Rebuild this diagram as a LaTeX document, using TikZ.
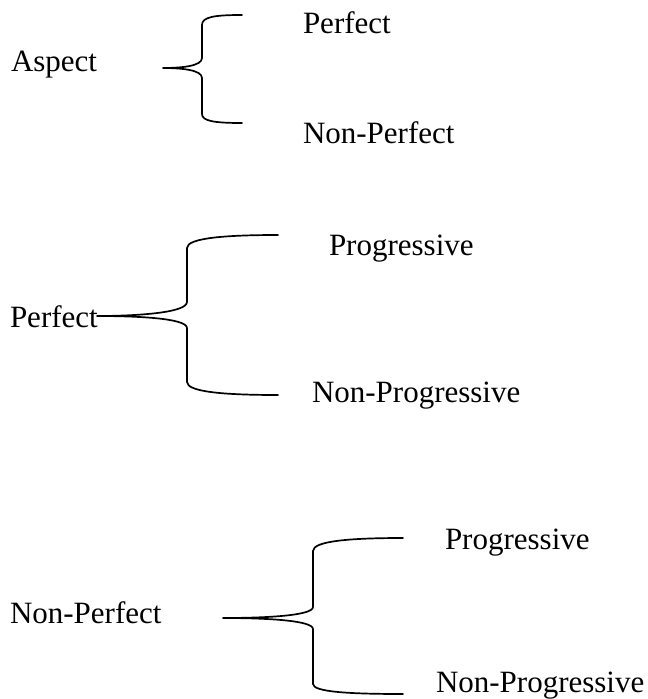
\documentclass[tikz,border=0pt]{standalone}
\usepackage{fontspec}
\setmainfont{Liberation Serif}
\begin{document}
\begin{tikzpicture}[x=1pt,y=-1pt,
  lbl/.style={anchor=base west,inner sep=0pt,outer sep=0pt,font=\fontsize{31}{36}\selectfont},
  brc/.style={line width=1.7pt,line cap=round,line join=round}]
\useasboundingbox (0,0) rectangle (648,699);
% texts
\node[lbl] (aspect) at (11,71) {Aspect};
\node[lbl] (perfA) at (303,33) {Perfect};
\node[lbl] (nonperfA) at (303,143) {Non-Perfect};
\node[lbl] (perfB) at (10,327) {Perfect};
\node[lbl] (progB) at (329,255) {Progressive};
\node[lbl] (nonprogB) at (312,402) {Non-Progressive};
\node[lbl] (nonperfC) at (10,623) {Non-Perfect};
\node[lbl] (progC) at (445,549) {Progressive};
\node[lbl] (nonprogC) at (436,692) {Non-Progressive};
% brace 1
\coordinate (t1) at (163,68);
\coordinate (a1) at (242,15);
\coordinate (b1) at (242,123);
\draw[brc] (a1) .. controls (214,15) and (202,17) .. (202,25) -- (202,58)
  .. controls (202,66) and (182,68) .. (t1)
  .. controls (182,68) and (202,70) .. (202,78) -- (202,114)
  .. controls (202,121) and (214,123) .. (b1);
% brace 2
\coordinate (t2) at (97,316);
\coordinate (a2) at (278,235);
\coordinate (b2) at (278,395);
\draw[brc] (a2) .. controls (225,235) and (187,238) .. (187,248) -- (187,302)
  .. controls (187,313) and (135,316) .. (t2)
  .. controls (135,316) and (187,318) .. (187,328) -- (187,382)
  .. controls (187,392) and (225,395) .. (b2);
% brace 3
\coordinate (t3) at (223,618);
\coordinate (a3) at (403,538);
\coordinate (b3) at (403,694);
\draw[brc] (a3) .. controls (350,538) and (313,541) .. (313,551) -- (313,607)
  .. controls (313,616) and (262,618) .. (t3)
  .. controls (262,618) and (313,620) .. (313,629) -- (313,684)
  .. controls (313,692) and (350,694) .. (b3);
\end{tikzpicture}
\end{document}
